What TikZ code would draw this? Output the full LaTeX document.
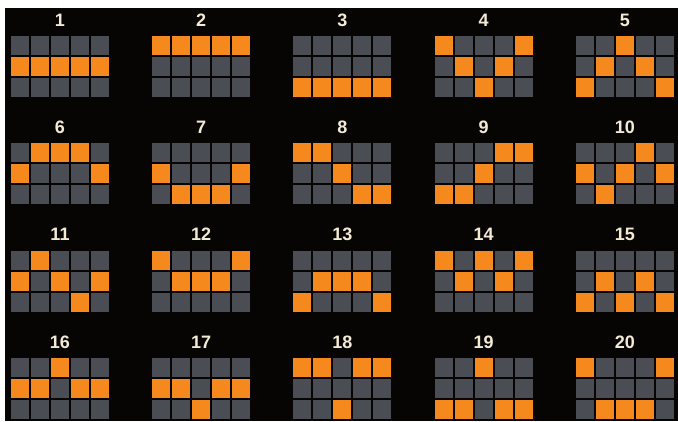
\documentclass[tikz,border=0pt]{standalone}
\usepackage{fontspec}
\setmainfont{Liberation Sans}
\definecolor{cellgray}{HTML}{4A4D53}
\definecolor{cellorange}{HTML}{F5891E}
\definecolor{labelcol}{HTML}{F2EAD3}
\definecolor{bgcol}{HTML}{070504}
\tikzset{lbl/.style={text=labelcol,font=\fontsize{18}{18}\selectfont\bfseries,inner sep=0pt}}
\begin{document}
\begin{tikzpicture}[x=1pt,y=-1pt]
\useasboundingbox (0,0) rectangle (678,421);
\fill[white] (0,0) rectangle (678,421);
\fill[bgcol] (5,8) rectangle (678,421);
\foreach \n/\a/\b/\c/\d/\e in {
 1/1/1/1/1/1, 2/0/0/0/0/0, 3/2/2/2/2/2, 4/0/1/2/1/0, 5/2/1/0/1/2,
 6/1/0/0/0/1, 7/1/2/2/2/1, 8/0/0/1/2/2, 9/2/2/1/0/0, 10/1/2/1/0/1,
 11/1/0/1/2/1, 12/0/1/1/1/0, 13/2/1/1/1/2, 14/0/1/0/1/0, 15/2/1/2/1/2,
 16/1/1/0/1/1, 17/1/1/2/1/1, 18/0/0/2/0/0, 19/2/2/0/2/2, 20/0/2/2/2/0}{
 \pgfmathtruncatemacro\gc{mod(\n-1,5)}
 \pgfmathtruncatemacro\gr{(\n-1)/5}
 \pgfmathsetmacro\gx{11+141.2*\gc}
 \pgfmathsetmacro\gy{36+107.3*\gr}
 \node[lbl] (lab\n) at (\gx+49,\gy-16) {\n};
 \foreach \j/\v in {0/\a,1/\b,2/\c,3/\d,4/\e}{
   \foreach \r in {0,1,2}{
     \ifnum\r=\v\relax\def\cc{cellorange}\else\def\cc{cellgray}\fi
     \fill[\cc] (\gx+20*\j,\gy+21*\r) rectangle ++(18,19);
   }
 }
}
\end{tikzpicture}
\end{document}
